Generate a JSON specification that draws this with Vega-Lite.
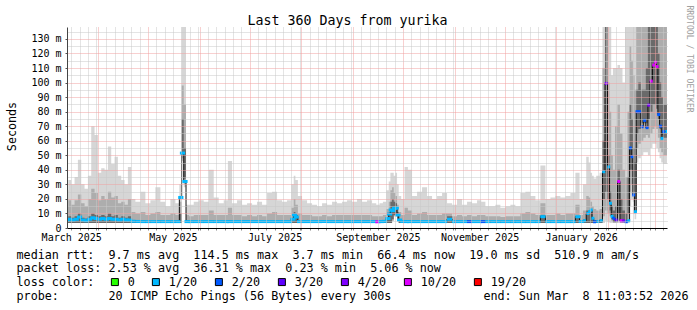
{
  "$schema": "https://vega.github.io/schema/vega-lite/v6.json",
  "width": 600,
  "height": 201,
  "autosize": "none",
  "padding": {"left": 67, "top": 27, "right": 30, "bottom": 82},
  "background": "white",
  "config": {
    "view": {"stroke": null},
    "font": "DejaVu Sans Mono",
    "axis": {"labelFont": "DejaVu Sans Mono", "titleFont": "DejaVu Sans Mono", "labelColor": "black", "titleColor": "black", "titleFontWeight": "normal"}
  },
  "title": {"text": "Last 360 Days from yurika", "anchor": "middle", "frame": "group", "dx": -19.5, "offset": -33.5, "baseline": "alphabetic", "font": "DejaVu Sans Mono", "fontSize": 13.3, "fontWeight": "normal", "color": "black"},
  "data": {"values": [
    {"t":"2025-03-13T12:00Z","lo":3.5,"m1":3.5,"d1":3.5,"d2":7,"m2":15,"hi":26,"med":5.5,"loss":"1/20"},
    {"t":"2025-03-15","lo":3.5,"m1":3.5,"d1":3.5,"d2":8,"m2":19,"hi":33,"med":6,"loss":"1/20"},
    {"t":"2025-03-17","lo":3.5,"m1":3.5,"d1":3.5,"d2":7,"m2":16,"hi":30,"med":5.5,"loss":"1/20"},
    {"t":"2025-03-19","lo":3.5,"m1":3.5,"d1":3.5,"d2":8,"m2":19,"hi":35,"med":6,"loss":"1/20"},
    {"t":"2025-03-21","lo":3.5,"m1":3.5,"d1":3.5,"d2":10,"m2":23,"hi":47,"med":7.5,"loss":"1/20"},
    {"t":"2025-03-23","lo":3.5,"m1":3.5,"d1":3.5,"d2":7,"m2":17,"hi":30,"med":5.5,"loss":"1/20"},
    {"t":"2025-03-25","lo":3.5,"m1":3.5,"d1":3.5,"d2":6.5,"m2":15,"hi":27,"med":5,"loss":"1/20"},
    {"t":"2025-03-27","lo":3.5,"m1":3.5,"d1":3.5,"d2":8,"m2":20,"hi":36,"med":6,"loss":"1/20"},
    {"t":"2025-03-29","lo":3.5,"m1":3.5,"d1":3.5,"d2":10,"m2":27,"hi":70,"med":7,"loss":"1/20"},
    {"t":"2025-03-31","lo":3.5,"m1":3.5,"d1":3.5,"d2":9,"m2":24,"hi":64,"med":6.5,"loss":"1/20"},
    {"t":"2025-04-02","lo":3.5,"m1":3.5,"d1":3.5,"d2":8,"m2":19,"hi":38,"med":6,"loss":"1/20"},
    {"t":"2025-04-04","lo":3.5,"m1":3.5,"d1":3.5,"d2":9,"m2":22,"hi":41,"med":6.5,"loss":"1/20"},
    {"t":"2025-04-06","lo":3.5,"m1":3.5,"d1":3.5,"d2":8,"m2":20,"hi":40,"med":6,"loss":"1/20"},
    {"t":"2025-04-08","lo":3.5,"m1":3.5,"d1":3.5,"d2":10,"m2":25,"hi":56,"med":6.5,"loss":"1/20"},
    {"t":"2025-04-10","lo":3.5,"m1":3.5,"d1":3.5,"d2":8,"m2":21,"hi":44,"med":6,"loss":"1/20"},
    {"t":"2025-04-12","lo":3.5,"m1":3.5,"d1":3.5,"d2":9,"m2":22,"hi":49,"med":6,"loss":"1/20"},
    {"t":"2025-04-14","lo":3.5,"m1":3.5,"d1":3.5,"d2":7,"m2":17,"hi":36,"med":5.5,"loss":"1/20"},
    {"t":"2025-04-16","lo":3.5,"m1":3.5,"d1":3.5,"d2":8,"m2":18,"hi":33,"med":6,"loss":"1/20"},
    {"t":"2025-04-18","lo":3.5,"m1":3.5,"d1":3.5,"d2":7,"m2":16,"hi":30,"med":5.5,"loss":"1/20"},
    {"t":"2025-04-20","lo":3.5,"m1":3.5,"d1":3.5,"d2":8,"m2":20,"hi":42,"med":5.5,"loss":"1/20"},
    {"t":"2025-04-22","lo":3.5,"m1":3.5,"d1":3.5,"d2":5.5,"m2":11,"hi":20,"med":4.6,"loss":"1/20"},
    {"t":"2025-04-25","lo":3.5,"m1":3.5,"d1":3.5,"d2":5.5,"m2":10,"hi":18,"med":4.5,"loss":"1/20"},
    {"t":"2025-04-28","lo":3.5,"m1":3.5,"d1":3.5,"d2":5.5,"m2":11,"hi":25,"med":4.4,"loss":"1/20"},
    {"t":"2025-05-01","lo":3.5,"m1":3.5,"d1":3.5,"d2":5,"m2":9,"hi":17,"med":4.4,"loss":"1/20"},
    {"t":"2025-05-04","lo":3.5,"m1":3.5,"d1":3.5,"d2":5,"m2":10,"hi":19,"med":4.4,"loss":"1/20"},
    {"t":"2025-05-07","lo":3.5,"m1":3.5,"d1":3.5,"d2":5.5,"m2":11,"hi":28,"med":4.4,"loss":"1/20"},
    {"t":"2025-05-10","lo":3.5,"m1":3.5,"d1":3.5,"d2":5,"m2":9,"hi":18,"med":4.4,"loss":"1/20"},
    {"t":"2025-05-13","lo":3.5,"m1":3.5,"d1":3.5,"d2":5,"m2":9,"hi":15,"med":4.4,"loss":"1/20"},
    {"t":"2025-05-16","lo":3.5,"m1":3.5,"d1":3.5,"d2":5,"m2":10,"hi":20,"med":4.4,"loss":"1/20"},
    {"t":"2025-05-19","lo":3.5,"m1":3.5,"d1":3.5,"d2":5,"m2":9,"hi":17,"med":4.4,"loss":"1/20"},
    {"t":"2025-05-20T18:00Z","lo":3.5,"m1":3.5,"d1":3.5,"d2":10,"m2":18,"hi":30,"med":21,"loss":"1/20"},
    {"t":"2025-05-21T18:00Z","lo":46,"m1":48,"d1":52,"d2":75,"m2":98,"hi":150,"med":51.5,"loss":"1/20"},
    {"t":"2025-05-23T06:00Z","lo":28,"m1":30,"d1":34,"d2":55,"m2":85,"hi":150,"med":32,"loss":"1/20"},
    {"t":"2025-05-24T12:00Z","lo":3.5,"m1":3.5,"d1":3.5,"d2":5,"m2":9,"hi":16,"med":4.4,"loss":"1/20"},
    {"t":"2025-05-27","lo":3.5,"m1":3.5,"d1":3.5,"d2":5,"m2":8,"hi":16,"med":4.4,"loss":"1/20"},
    {"t":"2025-05-30","lo":3.5,"m1":3.5,"d1":3.5,"d2":5,"m2":9,"hi":18,"med":4.4,"loss":"1/20"},
    {"t":"2025-06-02","lo":3.5,"m1":3.5,"d1":3.5,"d2":5,"m2":9,"hi":19,"med":4.4,"loss":"1/20"},
    {"t":"2025-06-05","lo":3.5,"m1":3.5,"d1":3.5,"d2":5,"m2":9,"hi":18,"med":4.4,"loss":"1/20"},
    {"t":"2025-06-08","lo":3.5,"m1":3.5,"d1":3.5,"d2":5.5,"m2":12,"hi":40,"med":4.4,"loss":"1/20"},
    {"t":"2025-06-11","lo":3.5,"m1":3.5,"d1":3.5,"d2":5,"m2":9,"hi":21,"med":4.4,"loss":"1/20"},
    {"t":"2025-06-14","lo":3.5,"m1":3.5,"d1":3.5,"d2":5,"m2":9,"hi":17,"med":4.4,"loss":"1/20"},
    {"t":"2025-06-17","lo":3.5,"m1":3.5,"d1":3.5,"d2":5,"m2":9,"hi":19,"med":4.4,"loss":"1/20"},
    {"t":"2025-06-19","lo":3.5,"m1":3.5,"d1":3.5,"d2":5.5,"m2":14,"hi":46,"med":4.4,"loss":"1/20"},
    {"t":"2025-06-22","lo":3.5,"m1":3.5,"d1":3.5,"d2":5,"m2":9,"hi":17,"med":4.4,"loss":"1/20"},
    {"t":"2025-06-25","lo":3.5,"m1":3.5,"d1":3.5,"d2":5,"m2":9,"hi":19,"med":4.4,"loss":"1/20"},
    {"t":"2025-06-28","lo":3.5,"m1":3.5,"d1":3.5,"d2":5,"m2":8,"hi":16,"med":4.4,"loss":"1/20"},
    {"t":"2025-07-01","lo":3.5,"m1":3.5,"d1":3.5,"d2":5,"m2":9,"hi":17,"med":4.4,"loss":"1/20"},
    {"t":"2025-07-04","lo":3.5,"m1":3.5,"d1":3.5,"d2":5,"m2":8,"hi":16,"med":4.4,"loss":"1/20"},
    {"t":"2025-07-07","lo":3.5,"m1":3.5,"d1":3.5,"d2":5,"m2":9,"hi":18,"med":4.4,"loss":"1/20"},
    {"t":"2025-07-10","lo":3.5,"m1":3.5,"d1":3.5,"d2":5,"m2":8,"hi":16,"med":4.4,"loss":"1/20"},
    {"t":"2025-07-13","lo":3.5,"m1":3.5,"d1":3.5,"d2":5,"m2":10,"hi":24,"med":4.4,"loss":"1/20"},
    {"t":"2025-07-16","lo":3.5,"m1":3.5,"d1":3.5,"d2":5,"m2":11,"hi":25,"med":4.4,"loss":"1/20"},
    {"t":"2025-07-19","lo":3.5,"m1":3.5,"d1":3.5,"d2":5,"m2":9,"hi":19,"med":4.4,"loss":"1/20"},
    {"t":"2025-07-22","lo":3.5,"m1":3.5,"d1":3.5,"d2":5,"m2":9,"hi":18,"med":4.4,"loss":"1/20"},
    {"t":"2025-07-25","lo":3.5,"m1":3.5,"d1":3.5,"d2":5,"m2":9,"hi":19,"med":4.4,"loss":"1/20"},
    {"t":"2025-07-27","lo":3.5,"m1":3.5,"d1":3.5,"d2":7,"m2":14,"hi":30,"med":6,"loss":"1/20"},
    {"t":"2025-07-28","lo":3.5,"m1":3.5,"d1":3.5,"d2":11,"m2":20,"hi":36,"med":9,"loss":"1/20"},
    {"t":"2025-07-29","lo":3.5,"m1":3.5,"d1":3.5,"d2":9,"m2":16,"hi":33,"med":7.5,"loss":"1/20"},
    {"t":"2025-07-31","lo":3.5,"m1":3.5,"d1":3.5,"d2":5,"m2":10,"hi":22,"med":4.4,"loss":"1/20"},
    {"t":"2025-08-03","lo":3.5,"m1":3.5,"d1":3.5,"d2":5,"m2":9,"hi":19,"med":4.4,"loss":"1/20"},
    {"t":"2025-08-06","lo":3.5,"m1":3.5,"d1":3.5,"d2":5,"m2":9,"hi":17,"med":4.4,"loss":"1/20"},
    {"t":"2025-08-09","lo":3.5,"m1":3.5,"d1":3.5,"d2":5,"m2":8,"hi":16,"med":4.4,"loss":"1/20"},
    {"t":"2025-08-12","lo":3.5,"m1":3.5,"d1":3.5,"d2":5,"m2":8,"hi":15,"med":4.4,"loss":"1/20"},
    {"t":"2025-08-15","lo":3.5,"m1":3.5,"d1":3.5,"d2":5,"m2":9,"hi":17,"med":4.4,"loss":"1/20"},
    {"t":"2025-08-18","lo":3.5,"m1":3.5,"d1":3.5,"d2":5,"m2":8,"hi":16,"med":4.4,"loss":"1/20"},
    {"t":"2025-08-21","lo":3.5,"m1":3.5,"d1":3.5,"d2":5,"m2":9,"hi":18,"med":4.4,"loss":"1/20"},
    {"t":"2025-08-24","lo":3.5,"m1":3.5,"d1":3.5,"d2":5,"m2":9,"hi":17,"med":4.4,"loss":"1/20"},
    {"t":"2025-08-27","lo":3.5,"m1":3.5,"d1":3.5,"d2":5,"m2":9,"hi":18,"med":4.4,"loss":"1/20"},
    {"t":"2025-08-30","lo":3.5,"m1":3.5,"d1":3.5,"d2":5,"m2":9,"hi":19,"med":4.4,"loss":"1/20"},
    {"t":"2025-09-02","lo":3.5,"m1":3.5,"d1":3.5,"d2":5,"m2":9,"hi":18,"med":4.4,"loss":"1/20"},
    {"t":"2025-09-05","lo":3.5,"m1":3.5,"d1":3.5,"d2":5,"m2":9,"hi":20,"med":4.4,"loss":"1/20"},
    {"t":"2025-09-08","lo":3.5,"m1":3.5,"d1":3.5,"d2":5,"m2":9,"hi":18,"med":4.4,"loss":"1/20"},
    {"t":"2025-09-11","lo":3.5,"m1":3.5,"d1":3.5,"d2":5,"m2":9,"hi":19,"med":4.4,"loss":"1/20"},
    {"t":"2025-09-14","lo":3.5,"m1":3.5,"d1":3.5,"d2":5,"m2":8,"hi":17,"med":4.4,"loss":"1/20"},
    {"t":"2025-09-16","lo":3.5,"m1":3.5,"d1":3.5,"d2":5,"m2":8,"hi":16,"med":4.3,"loss":"10/20"},
    {"t":"2025-09-18","lo":3.5,"m1":3.5,"d1":3.5,"d2":5,"m2":8,"hi":17,"med":4.4,"loss":"1/20"},
    {"t":"2025-09-20","lo":3.5,"m1":3.5,"d1":3.5,"d2":5,"m2":9,"hi":18,"med":4.6,"loss":"1/20"},
    {"t":"2025-09-22","lo":3.5,"m1":3.5,"d1":3.5,"d2":7,"m2":13,"hi":26,"med":6.5,"loss":"1/20"},
    {"t":"2025-09-23","lo":3.5,"m1":3.5,"d1":3.5,"d2":11,"m2":18,"hi":32,"med":9.6,"loss":"1/20"},
    {"t":"2025-09-24","lo":3.5,"m1":3.5,"d1":3.5,"d2":18,"m2":26,"hi":38,"med":12.4,"loss":"1/20"},
    {"t":"2025-09-25","lo":5,"m1":5,"d1":6,"d2":20,"m2":28,"hi":38,"med":12,"loss":"1/20"},
    {"t":"2025-09-26","lo":8,"m1":8,"d1":9,"d2":18,"m2":24,"hi":36,"med":13.5,"loss":"1/20"},
    {"t":"2025-09-27","lo":8,"m1":8,"d1":9,"d2":17,"m2":22,"hi":38,"med":13.7,"loss":"1/20"},
    {"t":"2025-09-28","lo":6,"m1":6,"d1":6,"d2":11,"m2":16,"hi":30,"med":9,"loss":"1/20"},
    {"t":"2025-09-29","lo":3.5,"m1":3.5,"d1":3.5,"d2":6,"m2":11,"hi":22,"med":5.5,"loss":"1/20"},
    {"t":"2025-10-01","lo":3.5,"m1":3.5,"d1":3.5,"d2":5,"m2":9,"hi":20,"med":4.5,"loss":"1/20"},
    {"t":"2025-10-03","lo":3.5,"m1":3.5,"d1":3.5,"d2":5.5,"m2":14,"hi":42,"med":4.4,"loss":"1/20"},
    {"t":"2025-10-05","lo":3.5,"m1":3.5,"d1":3.5,"d2":5.5,"m2":12,"hi":40,"med":4.4,"loss":"1/20"},
    {"t":"2025-10-08","lo":3.5,"m1":3.5,"d1":3.5,"d2":5,"m2":9,"hi":22,"med":4.4,"loss":"1/20"},
    {"t":"2025-10-11","lo":3.5,"m1":3.5,"d1":3.5,"d2":5,"m2":10,"hi":25,"med":4.4,"loss":"1/20"},
    {"t":"2025-10-14","lo":3.5,"m1":3.5,"d1":3.5,"d2":5,"m2":11,"hi":28,"med":4.4,"loss":"1/20"},
    {"t":"2025-10-17","lo":3.5,"m1":3.5,"d1":3.5,"d2":5,"m2":9,"hi":22,"med":4.4,"loss":"1/20"},
    {"t":"2025-10-20","lo":3.5,"m1":3.5,"d1":3.5,"d2":5,"m2":9,"hi":20,"med":4.4,"loss":"1/20"},
    {"t":"2025-10-23","lo":3.5,"m1":3.5,"d1":3.5,"d2":5,"m2":9,"hi":22,"med":4.4,"loss":"1/20"},
    {"t":"2025-10-26","lo":3.5,"m1":3.5,"d1":3.5,"d2":5,"m2":10,"hi":24,"med":4.4,"loss":"1/20"},
    {"t":"2025-10-29","lo":3.5,"m1":3.5,"d1":3.5,"d2":8,"m2":10,"hi":17,"med":6,"loss":"1/20"},
    {"t":"2025-11-01","lo":3.5,"m1":3.5,"d1":3.5,"d2":5,"m2":8,"hi":16,"med":4.4,"loss":"1/20"},
    {"t":"2025-11-04","lo":3.5,"m1":3.5,"d1":3.5,"d2":5,"m2":9,"hi":20,"med":4.4,"loss":"1/20"},
    {"t":"2025-11-07","lo":3.5,"m1":3.5,"d1":3.5,"d2":5,"m2":8,"hi":16,"med":4.4,"loss":"1/20"},
    {"t":"2025-11-10","lo":3.5,"m1":3.5,"d1":3.5,"d2":5,"m2":9,"hi":18,"med":4.4,"loss":"2/20"},
    {"t":"2025-11-13","lo":3.5,"m1":3.5,"d1":3.5,"d2":5,"m2":8,"hi":17,"med":4.4,"loss":"1/20"},
    {"t":"2025-11-16","lo":3.5,"m1":3.5,"d1":3.5,"d2":5,"m2":9,"hi":19,"med":4.4,"loss":"1/20"},
    {"t":"2025-11-18","lo":3.5,"m1":3.5,"d1":3.5,"d2":5,"m2":9,"hi":18,"med":4.4,"loss":"2/20"},
    {"t":"2025-11-21","lo":3.5,"m1":3.5,"d1":3.5,"d2":5,"m2":8,"hi":15,"med":4.4,"loss":"1/20"},
    {"t":"2025-11-24","lo":3.5,"m1":3.5,"d1":3.5,"d2":5,"m2":8,"hi":15,"med":4.4,"loss":"1/20"},
    {"t":"2025-11-27","lo":3.5,"m1":3.5,"d1":3.5,"d2":5,"m2":8,"hi":16,"med":4.4,"loss":"1/20"},
    {"t":"2025-11-30","lo":3.5,"m1":3.5,"d1":3.5,"d2":5,"m2":7.5,"hi":14,"med":4.4,"loss":"1/20"},
    {"t":"2025-12-03","lo":3.5,"m1":3.5,"d1":3.5,"d2":5,"m2":8,"hi":15,"med":4.4,"loss":"1/20"},
    {"t":"2025-12-06","lo":3.5,"m1":3.5,"d1":3.5,"d2":5,"m2":8,"hi":16,"med":4.4,"loss":"1/20"},
    {"t":"2025-12-09","lo":3.5,"m1":3.5,"d1":3.5,"d2":5,"m2":8,"hi":15,"med":4.4,"loss":"1/20"},
    {"t":"2025-12-12","lo":3.5,"m1":3.5,"d1":3.5,"d2":5,"m2":10,"hi":24,"med":4.4,"loss":"1/20"},
    {"t":"2025-12-15","lo":3.5,"m1":3.5,"d1":3.5,"d2":5,"m2":11,"hi":25,"med":4.4,"loss":"1/20"},
    {"t":"2025-12-18","lo":3.5,"m1":3.5,"d1":3.5,"d2":5,"m2":10,"hi":22,"med":4.4,"loss":"1/20"},
    {"t":"2025-12-21","lo":3.5,"m1":3.5,"d1":3.5,"d2":5,"m2":9,"hi":19,"med":4.4,"loss":"1/20"},
    {"t":"2025-12-24","lo":3.5,"m1":3.5,"d1":3.5,"d2":9,"m2":17,"hi":43,"med":7.8,"loss":"1/20"},
    {"t":"2025-12-27","lo":3.5,"m1":3.5,"d1":3.5,"d2":5,"m2":9,"hi":20,"med":4.4,"loss":"1/20"},
    {"t":"2025-12-30","lo":3.5,"m1":3.5,"d1":3.5,"d2":5,"m2":9,"hi":21,"med":4.4,"loss":"1/20"},
    {"t":"2026-01-02","lo":3.5,"m1":3.5,"d1":3.5,"d2":5,"m2":10,"hi":22,"med":4.4,"loss":"1/20"},
    {"t":"2026-01-05","lo":3.5,"m1":3.5,"d1":3.5,"d2":5,"m2":9,"hi":21,"med":4.4,"loss":"1/20"},
    {"t":"2026-01-08","lo":3.5,"m1":3.5,"d1":3.5,"d2":5,"m2":10,"hi":22,"med":4.4,"loss":"1/20"},
    {"t":"2026-01-11","lo":3.5,"m1":3.5,"d1":3.5,"d2":5,"m2":10,"hi":24,"med":4.4,"loss":"1/20"},
    {"t":"2026-01-14","lo":3.5,"m1":3.5,"d1":3.5,"d2":8,"m2":16,"hi":38,"med":7.8,"loss":"1/20"},
    {"t":"2026-01-16","lo":3.5,"m1":3.5,"d1":3.5,"d2":5,"m2":9,"hi":20,"med":4.5,"loss":"1/20"},
    {"t":"2026-01-18","lo":3.5,"m1":3.5,"d1":3.5,"d2":6,"m2":12,"hi":30,"med":5,"loss":"1/20"},
    {"t":"2026-01-20","lo":3.5,"m1":3.5,"d1":3.5,"d2":12,"m2":22,"hi":49,"med":10,"loss":"1/20"},
    {"t":"2026-01-21","lo":3.5,"m1":3.5,"d1":3.5,"d2":12,"m2":21,"hi":45,"med":11.2,"loss":"1/20"},
    {"t":"2026-01-22","lo":3.5,"m1":3.5,"d1":3.5,"d2":11,"m2":18,"hi":38,"med":12.4,"loss":"1/20"},
    {"t":"2026-01-23","lo":3.5,"m1":3.5,"d1":3.5,"d2":7,"m2":15,"hi":36,"med":6.7,"loss":"1/20"},
    {"t":"2026-01-24","lo":3.5,"m1":3.5,"d1":3.5,"d2":5.5,"m2":13,"hi":34,"med":4.3,"loss":"2/20"},
    {"t":"2026-01-26","lo":3.5,"m1":3.5,"d1":3.5,"d2":5.5,"m2":12,"hi":36,"med":4.5,"loss":"1/20"},
    {"t":"2026-01-28","lo":3.5,"m1":3.5,"d1":3.5,"d2":6,"m2":13,"hi":38,"med":5,"loss":"1/20"},
    {"t":"2026-01-29T12:00Z","lo":3.5,"m1":8,"d1":20,"d2":60,"m2":110,"hi":150,"med":38.7,"loss":"1/20"},
    {"t":"2026-01-31","lo":5,"m1":12,"d1":25,"d2":150,"m2":150,"hi":150,"med":99.4,"loss":"4/20"},
    {"t":"2026-02-01T12:00Z","lo":4,"m1":10,"d1":20,"d2":50,"m2":100,"hi":150,"med":42,"loss":"1/20"},
    {"t":"2026-02-02T12:00Z","lo":3.5,"m1":8,"d1":12,"d2":25,"m2":80,"hi":140,"med":17,"loss":"1/20"},
    {"t":"2026-02-03T12:00Z","lo":3.5,"m1":5,"d1":6,"d2":15,"m2":50,"hi":105,"med":8,"loss":"1/20"},
    {"t":"2026-02-04T12:00Z","lo":3.5,"m1":4,"d1":4,"d2":12,"m2":40,"hi":110,"med":6.7,"loss":"2/20"},
    {"t":"2026-02-06","lo":3.5,"m1":4,"d1":4,"d2":15,"m2":70,"hi":110,"med":5.5,"loss":"3/20"},
    {"t":"2026-02-07T12:00Z","lo":3.5,"m1":5,"d1":10,"d2":40,"m2":85,"hi":112,"med":32,"loss":"10/20"},
    {"t":"2026-02-09","lo":3.5,"m1":4,"d1":4,"d2":20,"m2":65,"hi":110,"med":5,"loss":"10/20"},
    {"t":"2026-02-10T12:00Z","lo":3.5,"m1":4,"d1":4,"d2":12,"m2":40,"hi":100,"med":5,"loss":"4/20"},
    {"t":"2026-02-12","lo":3.5,"m1":4,"d1":4,"d2":10,"m2":35,"hi":140,"med":4.3,"loss":"2/20"},
    {"t":"2026-02-13T12:00Z","lo":3.5,"m1":6,"d1":10,"d2":35,"m2":80,"hi":150,"med":5,"loss":"1/20"},
    {"t":"2026-02-14T12:00Z","lo":15,"m1":25,"d1":40,"d2":85,"m2":125,"hi":150,"med":55,"loss":"2/20"},
    {"t":"2026-02-15T12:00Z","lo":20,"m1":30,"d1":40,"d2":75,"m2":115,"hi":150,"med":49,"loss":"2/20"},
    {"t":"2026-02-16T12:00Z","lo":10,"m1":18,"d1":25,"d2":55,"m2":105,"hi":150,"med":22.7,"loss":"2/20"},
    {"t":"2026-02-17T12:00Z","lo":6,"m1":12,"d1":20,"d2":45,"m2":95,"hi":150,"med":11.2,"loss":"1/20"},
    {"t":"2026-02-18T12:00Z","lo":45,"m1":55,"d1":65,"d2":95,"m2":150,"hi":150,"med":80,"loss":"2/20"},
    {"t":"2026-02-20","lo":48,"m1":58,"d1":68,"d2":100,"m2":150,"hi":150,"med":80,"loss":"2/20"},
    {"t":"2026-02-21T12:00Z","lo":50,"m1":60,"d1":72,"d2":95,"m2":150,"hi":150,"med":69.6,"loss":"2/20"},
    {"t":"2026-02-23","lo":52,"m1":62,"d1":72,"d2":95,"m2":150,"hi":150,"med":74,"loss":"2/20"},
    {"t":"2026-02-24T12:00Z","lo":52,"m1":64,"d1":72,"d2":110,"m2":150,"hi":150,"med":69,"loss":"2/20"},
    {"t":"2026-02-25T12:00Z","lo":50,"m1":62,"d1":75,"d2":150,"m2":150,"hi":150,"med":84.5,"loss":"4/20"},
    {"t":"2026-02-27","lo":55,"m1":65,"d1":80,"d2":150,"m2":150,"hi":150,"med":101,"loss":"10/20"},
    {"t":"2026-02-28T12:00Z","lo":58,"m1":68,"d1":85,"d2":150,"m2":150,"hi":150,"med":112,"loss":"10/20"},
    {"t":"2026-03-01T12:00Z","lo":58,"m1":70,"d1":85,"d2":150,"m2":150,"hi":150,"med":114,"loss":"10/20"},
    {"t":"2026-03-02T12:00Z","lo":55,"m1":68,"d1":82,"d2":150,"m2":150,"hi":150,"med":111,"loss":"10/20"},
    {"t":"2026-03-03T12:00Z","lo":52,"m1":62,"d1":75,"d2":120,"m2":150,"hi":150,"med":78,"loss":"2/20"},
    {"t":"2026-03-04T12:00Z","lo":48,"m1":55,"d1":68,"d2":100,"m2":150,"hi":150,"med":70,"loss":"2/20"},
    {"t":"2026-03-05T12:00Z","lo":45,"m1":52,"d1":64,"d2":90,"m2":150,"hi":150,"med":61.6,"loss":"1/20"},
    {"t":"2026-03-06T12:00Z","lo":44,"m1":50,"d1":62,"d2":85,"m2":150,"hi":150,"med":66.2,"loss":"2/20"},
    {"t":"2026-03-08T10:00Z","lo":44,"m1":50,"d1":62,"d2":85,"m2":150,"hi":150,"med":66.4,"loss":"1/20"}
  ]},
  "encoding": {
    "x": {
      "field": "t", "type": "temporal",
      "scale": {"type": "utc", "domain": [{"year": 2025, "month": 3, "date": 13, "hours": 11, "minutes": 3, "seconds": 52, "utc": true}, {"year": 2026, "month": 3, "date": 8, "hours": 11, "minutes": 3, "seconds": 52, "utc": true}]},
      "axis": {
        "tickCount": {"interval": "day", "step": 5},
        "grid": true,
        "gridColor": {"condition": {"test": "utcdate(datum.value) === 1", "value": "#f0a0a0"}, "value": "#c8c8c8"},
        "gridDash": [1, 1],
        "gridWidth": 1,
        "labelExpr": "utcdate(datum.value) === 16 && utcmonth(datum.value) % 2 === 0 ? utcFormat(datum.value, '%B %Y') : ''",
        "labelOverlap": false, "labelFlush": false, "labelBound": false,
        "labelFontSize": 10, "labelPadding": 2,
        "ticks": true, "tickSize": 2, "tickColor": "#888888",
        "domainColor": "black", "domainWidth": 1,
        "title": ["median rtt:\u00a0\u00a09.7 ms avg\u00a0\u00a0114.5 ms max\u00a0\u00a03.7 ms min\u00a0\u00a066.4 ms now\u00a0\u00a019.0 ms sd\u00a0\u00a0510.9 m am/s", "packet loss: 2.53 % avg\u00a0\u00a036.31 % max\u00a0\u00a00.23 % min\u00a0\u00a05.06 % now", "loss color:", "probe:\u00a0\u00a0\u00a0\u00a0\u00a0\u00a0\u00a020 ICMP Echo Pings (56 Bytes) every 300s\u00a0\u00a0\u00a0\u00a0\u00a0\u00a0\u00a0\u00a0\u00a0\u00a0\u00a0\u00a0\u00a0end: Sun Mar\u00a0\u00a08 11:03:52 2026"],
        "titleFontSize": 11.75, "titleAnchor": "start", "titleAlign": "left", "titleBaseline": "alphabetic",
        "titleX": -51, "titleY": 30, "titleLineHeight": 13.9,
        "zindex": 1
      }
    }
  },
  "layer": [
    {
      "layer": [
        {
          "mark": {"type": "area", "interpolate": "step", "color": "#d6d6d6", "clip": true},
          "encoding": {
            "y": {"field": "lo", "type": "quantitative", "axis": null, "scale": {"domain": [0, 138.2], "nice": false, "clamp": true}},
            "y2": {"field": "hi"}
          }
        },
        {
          "mark": {"type": "area", "interpolate": "step", "color": "#adadad", "clip": true},
          "encoding": {
            "y": {"field": "m1", "type": "quantitative", "axis": null, "scale": {"domain": [0, 138.2], "nice": false, "clamp": true}},
            "y2": {"field": "m2"}
          }
        },
        {
          "mark": {"type": "area", "interpolate": "step", "color": "#6a6a6a", "clip": true},
          "encoding": {
            "y": {"field": "d1", "type": "quantitative", "axis": null, "scale": {"domain": [0, 138.2], "nice": false, "clamp": true}},
            "y2": {"field": "d2"}
          }
        },
        {
          "mark": {"type": "line", "interpolate": "step", "color": "#101010", "strokeWidth": 1, "clip": true},
          "encoding": {
            "y": {"field": "med", "type": "quantitative", "axis": null, "scale": {"domain": [0, 138.2], "nice": false, "clamp": true}}
          }
        },
        {
          "transform": [{"filter": "toDate(datum.t) < utc(2026, 0, 17)"}],
          "mark": {"type": "tick", "orient": "horizontal", "thickness": 3, "size": 5.2, "clip": true, "opacity": 1},
          "encoding": {
            "y": {"field": "med", "type": "quantitative", "axis": null, "scale": {"domain": [0, 138.2], "nice": false, "clamp": true}},
            "color": {"field": "loss", "type": "nominal",
              "scale": {"domain": ["0", "1/20", "2/20", "3/20", "4/20", "10/20", "19/20"], "range": ["#26ff00", "#00b8ff", "#0059ff", "#5e00ff", "#7e00ff", "#dd00ff", "#ff0000"]},
              "legend": {"orient": "none", "legendX": 42, "legendY": 249, "direction": "horizontal", "title": null,
                "symbolType": "square", "symbolSize": 49, "symbolStrokeColor": "black", "symbolStrokeWidth": 1, "symbolOpacity": 1,
                "labelFont": "DejaVu Sans Mono", "labelFontSize": 11.75, "labelColor": "black", "labelOffset": 7, "columnPadding": 15, "padding": 0,
                "values": ["0", "1/20", "2/20", "3/20", "4/20", "10/20", "19/20"],
                "encode": {"symbols": {"update": {"stroke": {"value": "black"}, "strokeWidth": {"value": 1}}}}}}
          }
        },
        {
          "transform": [{"filter": "toDate(datum.t) >= utc(2026, 0, 17)"}],
          "mark": {"type": "tick", "orient": "horizontal", "thickness": 3, "size": 3, "clip": true, "opacity": 1},
          "encoding": {
            "y": {"field": "med", "type": "quantitative", "axis": null, "scale": {"domain": [0, 138.2], "nice": false, "clamp": true}},
            "color": {"field": "loss", "type": "nominal",
              "scale": {"domain": ["0", "1/20", "2/20", "3/20", "4/20", "10/20", "19/20"], "range": ["#26ff00", "#00b8ff", "#0059ff", "#5e00ff", "#7e00ff", "#dd00ff", "#ff0000"]}}
          }
        }
      ]
    },
    {
      "mark": {"type": "point", "opacity": 0},
      "encoding": {
        "y": {"field": "med", "type": "quantitative", "scale": {"domain": [0, 138.2], "nice": false, "clamp": true},
          "axis": {
            "orient": "left",
            "values": [0,10,20,30,40,50,60,70,80,90,100,110,120,130],
            "grid": true,
            "gridColor": "#f0a0a0",
            "gridDash": [1, 1],
            "labelExpr": "datum.value === 0 ? '0\u00a0\u00a0' : datum.value + ' m'",
            "labelOverlap": false, "labelBound": false, "labelFlush": false, "labelSeparation": 0,
            "labelFontSize": 10, "labelPadding": 4,
            "ticks": true, "tickSize": 2, "tickColor": "#555555",
            "domain": true, "domainColor": "#444444",
            "title": "Seconds", "titleFontSize": 11.7, "titleAngle": 270,
            "titleX": -56, "titleY": 99, "titleAlign": "center", "titleBaseline": "middle",
            "zindex": 1
          }}
      }
    },
    {
      "mark": {"type": "point", "opacity": 0},
      "encoding": {
        "y": {"field": "med", "type": "quantitative", "scale": {"domain": [0, 138.2], "nice": false, "clamp": true},
          "axis": {"orient": "right", "labels": false, "ticks": false, "domain": false,
            "values": [5,15,25,35,45,55,65,75,85,95,105,115,125,135],
            "grid": true, "gridColor": "#c8c8c8", "gridDash": [1, 1], "zindex": 1,
            "title": "RRDTOOL / TOBI OETIKER", "titleAngle": 90, "titleX": 21, "titleY": -22, "titleAlign": "left", "titleBaseline": "middle",
            "titleColor": "#a0a0a0", "titleFontSize": 8.1, "titleFontWeight": "normal"}}
      }
    }
  ],
  "resolve": {"axis": {"y": "independent"}}
}
